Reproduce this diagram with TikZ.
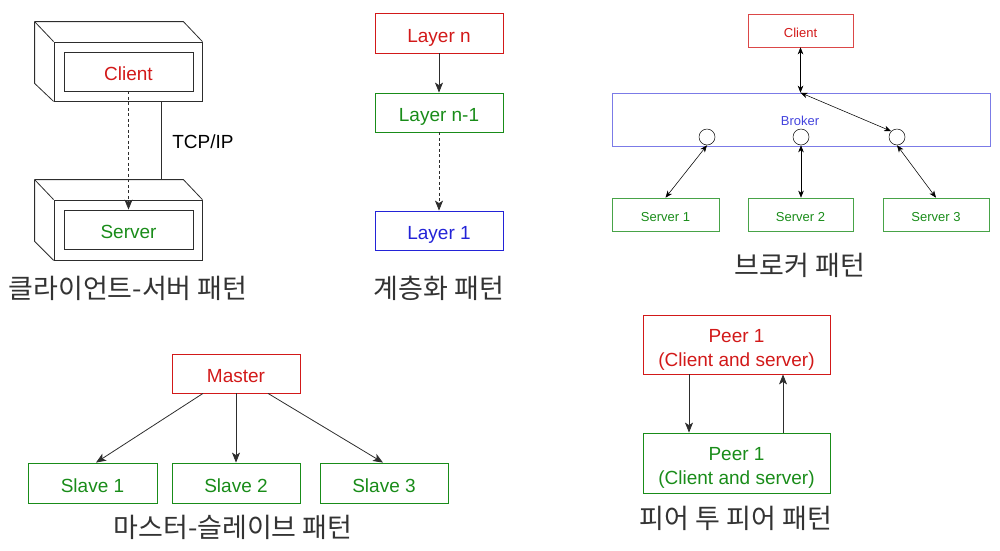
\documentclass[tikz,border=0pt]{standalone}
\usepackage{fontspec}
\setmainfont{Liberation Sans}
\newfontfamily\krfont{Noto Sans CJK KR}
\usetikzlibrary{arrows.meta,calc}
\definecolor{myred}{RGB}{210,25,25}
\definecolor{mygreen}{RGB}{25,140,25}
\definecolor{myblue}{RGB}{35,35,215}
\definecolor{mygray}{RGB}{45,45,45}
\tikzset{
  box/.style={draw, rectangle, inner sep=0pt, line width=0.8pt, font=\fontsize{19}{24}\selectfont, text height=18pt, text depth=0pt},
  pbox/.style={draw, rectangle, inner sep=0pt, line width=0.8pt, font=\fontsize{19}{24}\selectfont, align=center, text height=48pt, text depth=5pt},
  sbox/.style={draw, rectangle, inner sep=0pt, line width=0.6pt, font=\fontsize{13}{16}\selectfont, text height=13pt, text depth=0pt},
  redbox/.style={box, draw=myred, text=myred},
  greenbox/.style={box, draw=mygreen, text=mygreen},
  bluebox/.style={box, draw=myblue, text=myblue},
  framebox/.style={draw=mygray, rectangle, inner sep=0pt, line width=0.8pt},
  caption/.style={font=\krfont\fontsize{27}{30}\selectfont, text=black!80, inner sep=0pt},
  arr/.style={-{Stealth[length=10pt,width=8pt,inset=2.5pt]}, line width=0.8pt, draw=mygray},
  darr/.style={arr, dashed, dash pattern=on 3pt off 2.5pt},
  barr/.style={{Stealth[length=7pt,width=5.5pt,inset=2pt]}-{Stealth[length=7pt,width=5.5pt,inset=2pt]}, line width=0.55pt, draw=black},
}
\begin{document}
\begin{tikzpicture}[x=1pt,y=-1pt]
\useasboundingbox (0,0) rectangle (1000,550);

% ---------- Client-server ----------
\node[framebox, minimum width=148pt, minimum height=59pt] (cfront) at (128,71.5) {};
\node[box, draw=mygray, text=myred, minimum width=129pt, minimum height=39pt] (cin) at (128.5,71.5) {Client};
\draw[draw=mygray, line width=0.8pt] ($(cfront.north west)+(-19,-20)$) -- ($(cfront.north east)+(-19,-20)$) -- (cfront.north east);
\draw[draw=mygray, line width=0.8pt] ($(cfront.north west)+(-19,-20)$) -- (cfront.north west);
\draw[draw=mygray, line width=0.8pt] ($(cfront.north west)+(-19,-20)$) -- ($(cfront.south west)+(-19,-18)$) -- (cfront.south west);

\node[framebox, minimum width=148pt, minimum height=60pt] (sfront) at (128,230) {};
\node[box, draw=mygray, text=mygreen, minimum width=129pt, minimum height=39pt] (sin) at (128.5,229.5) {Server};
\draw[draw=mygray, line width=0.8pt] ($(sfront.north west)+(-19,-20)$) -- ($(sfront.north east)+(-19,-20)$) -- (sfront.north east);
\draw[draw=mygray, line width=0.8pt] ($(sfront.north west)+(-19,-20)$) -- (sfront.north west);
\draw[draw=mygray, line width=0.8pt] ($(sfront.north west)+(-19,-20)$) -- ($(sfront.south west)+(-19,-19)$) -- (sfront.south west);

\draw[darr] (cin.south) -- (sin.north);
\draw[draw=mygray, line width=0.8pt] ([xshift=33pt]cfront.south) -- ([xshift=33pt,yshift=20pt]sfront.north);
\node[font=\fontsize{19}{22}\selectfont, inner sep=0pt] (tcp) at (203,142) {TCP/IP};
\node[caption] (cap1) at (128,288) {클라이언트-서버 패턴};

% ---------- Layers ----------
\node[redbox, minimum width=128pt, minimum height=40pt] (ln) at (439,33) {Layer n};
\node[greenbox, minimum width=128pt, minimum height=39pt] (ln1) at (439,112.5) {Layer n-1};
\node[bluebox, minimum width=128pt, minimum height=39pt] (l1) at (439,230.5) {Layer 1};
\draw[arr] (ln.south) -- (ln1.north);
\draw[darr] (ln1.south) -- (l1.north);
\node[caption] (cap2) at (439,288) {계층화 패턴};

% ---------- Broker ----------
\node[sbox, draw=myred!80, text=myred, minimum width=105pt, minimum height=33pt] (bcl) at (800.5,30.5) {Client};
\node[sbox, draw=myblue!60, text=myblue!85, minimum width=378pt, minimum height=53pt] (broker) at (801,119.5) {};
\node[font=\fontsize{13}{16}\selectfont, text=myblue!85, inner sep=0pt] (brokerlbl) at (800,120.5) {Broker};
\node[draw=black, circle, line width=0.5pt, minimum size=16pt, inner sep=0pt] (c1) at (707,137) {};
\node[draw=black, circle, line width=0.5pt, minimum size=16pt, inner sep=0pt] (c2) at (801,137) {};
\node[draw=black, circle, line width=0.5pt, minimum size=16pt, inner sep=0pt] (c3) at (897,137) {};
\node[sbox, draw=mygreen!80, text=mygreen, minimum width=107pt, minimum height=33pt] (bs1) at (665.5,214.5) {Server 1};
\node[sbox, draw=mygreen!80, text=mygreen, minimum width=105pt, minimum height=33pt] (bs2) at (800.5,214.5) {Server 2};
\node[sbox, draw=mygreen!80, text=mygreen, minimum width=106pt, minimum height=33pt] (bs3) at (936,214.5) {Server 3};
\coordinate (btop) at (bcl.south |- broker.north);
\draw[barr] (bcl.south) -- (btop);
\draw[barr] (btop) -- (c3.north west);
\draw[barr] (bs1.north) -- (c1.south);
\draw[barr] (c2.south) -- (c2.south |- bs2.north);
\draw[barr] (bs3.north) -- (c3.south);
\node[caption] (cap3) at (800,265.5) {브로커 패턴};

% ---------- Master-slave ----------
\node[redbox, minimum width=128pt, minimum height=39pt] (master) at (236,373.5) {Master};
\node[greenbox, minimum width=129pt, minimum height=40pt] (sl1) at (92.5,483) {Slave 1};
\node[greenbox, minimum width=128pt, minimum height=40pt] (sl2) at (236,483) {Slave 2};
\node[greenbox, minimum width=128pt, minimum height=40pt] (sl3) at (384,483) {Slave 3};
\draw[arr] ([xshift=-33pt]master.south) -- ([xshift=3.5pt]sl1.north);
\draw[arr] (master.south) -- (sl2.north);
\draw[arr] ([xshift=32pt]master.south) -- ([xshift=-1pt]sl3.north);
\node[caption] (cap4) at (233,527) {마스터-슬레이브 패턴};

% ---------- Peer to peer ----------
\node[pbox, draw=myred, text=myred, minimum width=187pt, minimum height=59pt] (p1) at (736.5,344.5) {Peer 1\\(Client and server)};
\node[pbox, draw=mygreen, text=mygreen, minimum width=187pt, minimum height=60pt] (p2) at (736.5,463) {Peer 1\\(Client and server)};
\draw[arr] ([xshift=-47.5pt]p1.south) -- ([xshift=-47.5pt]p2.north);
\draw[arr] ([xshift=46.5pt]p2.north) -- ([xshift=46.5pt]p1.south);
\node[caption] (cap5) at (736,518.5) {피어 투 피어 패턴};
\end{tikzpicture}
\end{document}
